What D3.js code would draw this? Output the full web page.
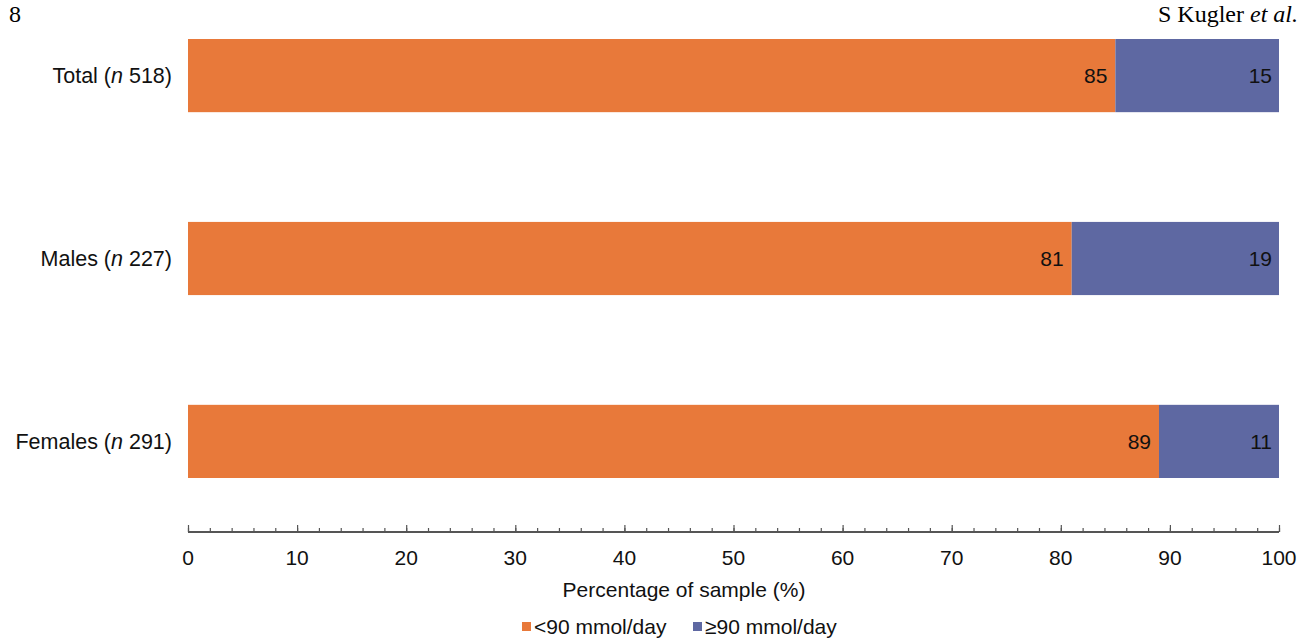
<!DOCTYPE html>
<html>
<head>
<meta charset="utf-8">
<script src="https://cdn.jsdelivr.net/npm/d3@7"></script>
<style>
  body { margin: 0; background: #fff; }
  svg { display: block; }
</style>
</head>
<body>
<svg id="chart" width="1309" height="638"></svg>
<script>
const groups = ["Total", "Males", "Females"];
const groupN = [518, 227, 291];
const below90 = [85, 81, 89];
const above90 = [15, 19, 11];
const seriesNames = ["<90 mmol/day", "\u226590 mmol/day"];
const xTicks = [0, 10, 20, 30, 40, 50, 60, 70, 80, 90, 100];

const colors = ["#e8793a", "#5e68a2"];
const font = "Liberation Sans, Arial, sans-serif";
const fs = "21px";

const svg = d3.select("#chart");

const x = d3.scaleLinear().domain([0, 100]).range([188, 1279]);
const y = d3.scaleBand().domain(groups).range([39, 478]).paddingInner(0.6).paddingOuter(0);

// header
svg.append("text")
    .attr("x", 9).attr("y", 22)
    .attr("font-family", "Liberation Serif, serif")
    .attr("font-size", "24px")
    .text("8");

const hdr = svg.append("text")
    .attr("x", 1298).attr("y", 22)
    .attr("text-anchor", "end")
    .attr("font-family", "Liberation Serif, serif")
    .attr("font-size", "24px");
hdr.append("tspan").text("S Kugler ");
hdr.append("tspan").attr("font-style", "italic").text("et al.");

const data = groups.map((g, i) => ({group: g, n: groupN[i], a: below90[i], b: above90[i]}));

const rows = svg.append("g").selectAll("g")
    .data(data)
    .join("g");

rows.append("rect")
    .attr("x", x(0))
    .attr("y", d => y(d.group))
    .attr("width", d => x(d.a) - x(0))
    .attr("height", y.bandwidth())
    .attr("fill", colors[0]);

rows.append("rect")
    .attr("x", d => x(d.a))
    .attr("y", d => y(d.group))
    .attr("width", d => x(d.a + d.b) - x(d.a))
    .attr("height", y.bandwidth())
    .attr("fill", colors[1]);

rows.append("text")
    .attr("x", d => x(d.a) - 8)
    .attr("y", d => y(d.group) + y.bandwidth() / 2)
    .attr("dy", "0.35em")
    .attr("text-anchor", "end")
    .attr("font-family", font)
    .attr("font-size", fs)
    .attr("fill", "#111")
    .text(d => d.a);

rows.append("text")
    .attr("x", d => x(d.a + d.b) - 7)
    .attr("y", d => y(d.group) + y.bandwidth() / 2)
    .attr("dy", "0.35em")
    .attr("text-anchor", "end")
    .attr("font-family", font)
    .attr("font-size", fs)
    .attr("fill", "#111")
    .text(d => d.b);

const lab = rows.append("text")
    .attr("x", 172)
    .attr("y", d => y(d.group) + y.bandwidth() / 2)
    .attr("dy", "0.35em")
    .attr("text-anchor", "end")
    .attr("font-family", font)
    .attr("font-size", "21.5px")
    .attr("fill", "#111");
lab.append("tspan").text(d => d.group + " (");
lab.append("tspan").attr("font-style", "italic").text("n");
lab.append("tspan").text(d => " " + d.n + ")");

// x axis
const axisY = 532;
const ax = svg.append("g")
    .attr("transform", `translate(0, ${axisY})`);

ax.append("g")
    .call(d3.axisTop(x).tickValues(d3.range(0, 101, 2)).tickSize(4).tickFormat(""))
    .call(g => g.select(".domain").remove())
    .selectAll("line").attr("stroke", "#555").attr("stroke-width", 1.2);

ax.append("g")
    .call(d3.axisTop(x).tickValues(xTicks).tickSize(7).tickSizeOuter(0).tickFormat(""))
    .call(g => g.select(".domain").attr("stroke", "#555").attr("stroke-width", 2).attr("d", `M${x(0)},0H${x(100)}`))
    .selectAll("line").attr("stroke", "#555").attr("stroke-width", 1.2);

ax.append("g")
    .selectAll("text")
    .data(xTicks)
    .join("text")
    .attr("x", d => x(d))
    .attr("y", 33)
    .attr("text-anchor", "middle")
    .attr("font-family", font)
    .attr("font-size", fs)
    .attr("fill", "#111")
    .text(d => d);

svg.append("text")
    .attr("x", 684).attr("y", 597)
    .attr("text-anchor", "middle")
    .attr("font-family", font)
    .attr("font-size", fs)
    .attr("fill", "#111")
    .text("Percentage of sample (%)");

// legend
const legX = [522, 693];
const legend = svg.append("g").selectAll("g")
    .data(seriesNames)
    .join("g")
    .attr("transform", (d, i) => `translate(${legX[i]}, 627)`);

legend.append("rect")
    .attr("x", 0).attr("y", -5)
    .attr("width", 9).attr("height", 9)
    .attr("fill", (d, i) => colors[i]);

legend.append("text")
    .attr("x", 12).attr("y", 0)
    .attr("dy", "0.35em")
    .attr("font-family", font)
    .attr("font-size", fs)
    .attr("fill", "#111")
    .text(d => d);
</script>
</body>
</html>
